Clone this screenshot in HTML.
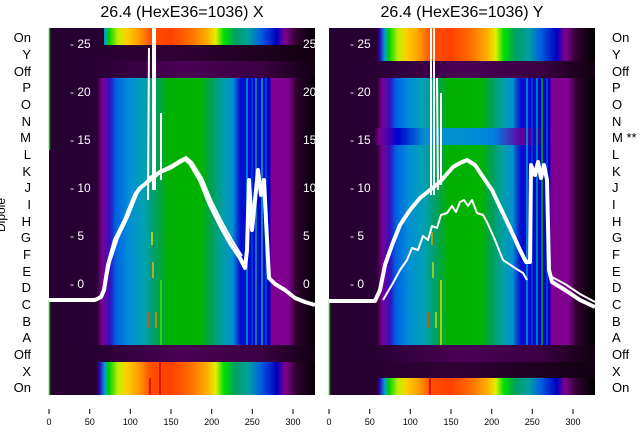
<!DOCTYPE html>
<html><head><meta charset="utf-8"><style>
body{margin:0;background:#fff;}
svg{display:block;font-family:"Liberation Sans","DejaVu Sans",sans-serif;}
</style></head><body>
<svg width="640" height="440" viewBox="0 0 640 440" xmlns="http://www.w3.org/2000/svg">
<defs>
<linearGradient id="mid" x1="0" x2="1" y1="0" y2="0">
<stop offset="0" stop-color="#250030"/>
<stop offset="0.18" stop-color="#2a0035"/>
<stop offset="0.20" stop-color="#7a0090"/>
<stop offset="0.23" stop-color="#3010c0"/>
<stop offset="0.25" stop-color="#0060e0"/>
<stop offset="0.30" stop-color="#0090d8"/>
<stop offset="0.36" stop-color="#00a0b0"/>
<stop offset="0.40" stop-color="#00a060"/>
<stop offset="0.45" stop-color="#00b000"/>
<stop offset="0.57" stop-color="#00b400"/>
<stop offset="0.61" stop-color="#00a050"/>
<stop offset="0.65" stop-color="#00a0a0"/>
<stop offset="0.69" stop-color="#0090d0"/>
<stop offset="0.72" stop-color="#0010d0"/>
<stop offset="0.83" stop-color="#0000c8"/>
<stop offset="0.835" stop-color="#800090"/>
<stop offset="0.90" stop-color="#800090"/>
<stop offset="0.93" stop-color="#300030"/>
<stop offset="1" stop-color="#000000"/>
</linearGradient>
<linearGradient id="midM" x1="0" x2="1" y1="0" y2="0">
<stop offset="0" stop-color="#250030"/>
<stop offset="0.17" stop-color="#2a0035"/>
<stop offset="0.19" stop-color="#7a0090"/>
<stop offset="0.26" stop-color="#0000d0"/>
<stop offset="0.36" stop-color="#0090d0"/>
<stop offset="0.5" stop-color="#0090d0"/>
<stop offset="0.62" stop-color="#0080e0"/>
<stop offset="0.72" stop-color="#6000a0"/>
<stop offset="0.83" stop-color="#0000c8"/>
<stop offset="0.835" stop-color="#800090"/>
<stop offset="0.90" stop-color="#800090"/>
<stop offset="0.93" stop-color="#300030"/>
<stop offset="1" stop-color="#000000"/>
</linearGradient>
<linearGradient id="spec" x1="0" x2="1" y1="0" y2="0">
<stop offset="0" stop-color="#250030"/>
<stop offset="0.18" stop-color="#250030"/>
<stop offset="0.19" stop-color="#3000c0"/>
<stop offset="0.21" stop-color="#00a0d0"/>
<stop offset="0.225" stop-color="#00d000"/>
<stop offset="0.26" stop-color="#c0f000"/>
<stop offset="0.29" stop-color="#ffd000"/>
<stop offset="0.336" stop-color="#ffa000"/>
<stop offset="0.38" stop-color="#ff5000"/>
<stop offset="0.46" stop-color="#ff4000"/>
<stop offset="0.535" stop-color="#ff7000"/>
<stop offset="0.596" stop-color="#ffb000"/>
<stop offset="0.627" stop-color="#e0f000"/>
<stop offset="0.657" stop-color="#00e000"/>
<stop offset="0.70" stop-color="#00a060"/>
<stop offset="0.75" stop-color="#00a0a0"/>
<stop offset="0.795" stop-color="#0060e0"/>
<stop offset="0.856" stop-color="#0000c0"/>
<stop offset="0.887" stop-color="#800090"/>
<stop offset="0.93" stop-color="#300030"/>
<stop offset="1" stop-color="#000000"/>
</linearGradient>
<linearGradient id="dark" x1="0" x2="1" y1="0" y2="0">
<stop offset="0" stop-color="#250030"/>
<stop offset="0.2" stop-color="#2a0035"/>
<stop offset="0.5" stop-color="#4a0055"/>
<stop offset="0.8" stop-color="#3a0040"/>
<stop offset="1" stop-color="#100010"/>
</linearGradient>
<linearGradient id="dark2" x1="0" x2="1" y1="0" y2="0">
<stop offset="0" stop-color="#250030"/>
<stop offset="0.5" stop-color="#300035"/>
<stop offset="1" stop-color="#100010"/>
</linearGradient>
</defs>

<text x="182" y="17" font-size="16" text-anchor="middle" fill="#000">26.4 (HexE36=1036) X</text>
<text x="462" y="17" font-size="16" text-anchor="middle" fill="#000">26.4 (HexE36=1036) Y</text>

<!-- LEFT PANEL -->
<g>
<rect x="49" y="28" width="266" height="367" fill="#250030"/>
<rect x="49" y="28" width="266" height="17" fill="url(#spec)"/>
<rect x="49" y="45" width="266" height="16" fill="url(#dark2)"/>
<rect x="49" y="61" width="266" height="17" fill="url(#dark)"/>
<rect x="49" y="78" width="266" height="267" fill="url(#mid)"/>
<rect x="49" y="345" width="266" height="17" fill="url(#dark)"/>
<rect x="49" y="362" width="266" height="33" fill="url(#spec)"/>
<rect x="49" y="28" width="55" height="17" fill="#250030"/>
<g stroke-width="1.5">
<line x1="247" y1="78" x2="247" y2="345" stroke="#00a0d0"/>
<line x1="252" y1="78" x2="252" y2="345" stroke="#0040e0"/>
<line x1="256" y1="78" x2="256" y2="345" stroke="#00a0a0"/>
<line x1="262" y1="78" x2="262" y2="345" stroke="#00b0c0"/>
<line x1="266" y1="78" x2="266" y2="345" stroke="#0050e0"/>
<line x1="152" y1="232" x2="152" y2="245" stroke="#e0e000"/>
<line x1="153" y1="262" x2="153" y2="278" stroke="#ffb000"/>
<line x1="148" y1="312" x2="148" y2="328" stroke="#ff4000"/>
<line x1="156" y1="312" x2="156" y2="328" stroke="#ff8000"/>
<line x1="161" y1="280" x2="161" y2="345" stroke="#40e000"/>
<line x1="150" y1="378" x2="150" y2="395" stroke="#d00000"/>
<line x1="160" y1="362" x2="160" y2="395" stroke="#e00000"/>
<line x1="49.5" y1="28" x2="49.5" y2="150" stroke="#00c000"/>
<line x1="49.5" y1="300" x2="49.5" y2="395" stroke="#00c000"/>
</g>
<g fill="none" stroke="#fff" stroke-linejoin="round">
<polyline stroke-width="4" points="49,300 95,300 101,297 104,290 108,265 115,240 125,220 135,195 140,188 150,180 160,172 170,168 178,163 185,159 190,163 200,180 210,205 220,225 230,243 240,258 245,268 247,250 249,180 252,230 255,200 258,170 261,195 264,180 267,240 269,278 275,284 285,290 295,298 305,302 315,305"/>
<polyline stroke-width="2" points="100,299 105,287 110,262 118,238 128,217 138,192 150,177 162,170 172,165 180,160 186,157 192,162 202,178 212,202 222,222 232,240 242,256"/>
<polyline stroke-width="2" points="153,190 153,28"/>
<polyline stroke-width="2" points="155,190 155,28"/>
<polyline stroke-width="2" points="148,200 149,48"/>
<polyline stroke-width="2" points="161,180 161,113"/>
</g>
<g fill="#fff" font-size="12">
<text x="70" y="48">- 25</text>
<text x="70" y="96">- 20</text>
<text x="70" y="144">- 15</text>
<text x="70" y="192">- 10</text>
<text x="70" y="240">- 5</text>
<text x="70" y="288">- 0</text>
<text x="303" y="48">25</text>
<text x="303" y="96">20</text>
<text x="303" y="144">15</text>
<text x="303" y="192">10</text>
<text x="303" y="240">5</text>
<text x="303" y="288">0</text>
</g>
</g>

<!-- RIGHT PANEL -->
<g>
<rect x="329" y="28" width="266" height="367" fill="#250030"/>
<rect x="329" y="28" width="266" height="33" fill="url(#spec)"/>
<rect x="329" y="61" width="266" height="17" fill="url(#dark)"/>
<rect x="329" y="78" width="266" height="267" fill="url(#mid)"/>
<rect x="329" y="128" width="266" height="17" fill="url(#midM)"/>
<rect x="329" y="345" width="266" height="17" fill="url(#dark)"/>
<rect x="329" y="362" width="266" height="16" fill="url(#dark2)"/>
<rect x="329" y="378" width="266" height="17" fill="url(#spec)"/>
<g stroke-width="1.5">
<line x1="527" y1="78" x2="527" y2="345" stroke="#00a0d0"/>
<line x1="532" y1="78" x2="532" y2="345" stroke="#0040e0"/>
<line x1="537" y1="78" x2="537" y2="345" stroke="#00a0a0"/>
<line x1="542" y1="78" x2="542" y2="345" stroke="#00b000"/>
<line x1="547" y1="78" x2="547" y2="345" stroke="#0050e0"/>
<line x1="432" y1="232" x2="432" y2="245" stroke="#e0a000"/>
<line x1="433" y1="262" x2="433" y2="278" stroke="#c0e000"/>
<line x1="428" y1="312" x2="428" y2="328" stroke="#ff4000"/>
<line x1="436" y1="312" x2="436" y2="328" stroke="#c0e000"/>
<line x1="441" y1="280" x2="441" y2="345" stroke="#e0e000"/>
<line x1="430" y1="378" x2="430" y2="395" stroke="#d00000"/>
<line x1="329.5" y1="300" x2="329.5" y2="395" stroke="#00c000"/>
</g>
<g fill="none" stroke="#fff" stroke-linejoin="round">
<polyline stroke-width="4" points="329,301 375,301 380,290 385,265 392,245 400,225 410,210 420,198 430,190 440,182 453,167 460,163 467,160 475,165 483,177 492,190 500,207 510,228 520,250 526,262 530,262 531,165 535,175 538,162 541,178 544,165 547,180 549,270 552,282 565,290 580,300 595,307"/>
<polyline stroke-width="2" points="383,300 393,283 400,270 407,260 412,248 418,250 423,236 428,240 432,226 437,228 441,215 447,213 452,206 456,212 460,202 464,200 468,206 472,200 477,213 483,215 487,222 495,240 503,260 515,268 523,273 527,280"/>
<polyline stroke-width="2" points="550,276 565,284 580,294 595,302"/>
<polyline stroke-width="2" points="431,195 431,28"/>
<polyline stroke-width="2" points="434,195 434,28"/>
<polyline stroke-width="2" points="438,190 437,78"/>
<polyline stroke-width="2" points="441,185 441,93"/>
</g>
<g fill="#fff" font-size="12">
<text x="350" y="48">- 25</text>
<text x="350" y="96">- 20</text>
<text x="350" y="144">- 15</text>
<text x="350" y="192">- 10</text>
<text x="350" y="240">- 5</text>
<text x="350" y="288">- 0</text>
</g>
</g>

<g font-size="13" fill="#000">
<g text-anchor="end">
<text x="31" y="42">On</text><text x="31" y="59">Y</text><text x="31" y="76">Off</text>
<text x="31" y="92">P</text><text x="31" y="109">O</text><text x="31" y="126">N</text>
<text x="31" y="142">M</text><text x="31" y="159">L</text><text x="31" y="176">K</text>
<text x="31" y="192">J</text><text x="31" y="209">I</text><text x="31" y="226">H</text>
<text x="31" y="242">G</text><text x="31" y="259">F</text><text x="31" y="276">E</text>
<text x="31" y="292">D</text><text x="31" y="309">C</text><text x="31" y="326">B</text>
<text x="31" y="342">A</text><text x="31" y="359">Off</text><text x="31" y="376">X</text>
<text x="31" y="392">On</text>
</g>
<g>
<text x="612" y="42">On</text><text x="612" y="59">Y</text><text x="612" y="76">Off</text>
<text x="612" y="92">P</text><text x="612" y="109">O</text><text x="612" y="126">N</text>
<text x="612" y="142">M **</text><text x="612" y="159">L</text><text x="612" y="176">K</text>
<text x="612" y="192">J</text><text x="612" y="209">I</text><text x="612" y="226">H</text>
<text x="612" y="242">G</text><text x="612" y="259">F</text><text x="612" y="276">E</text>
<text x="612" y="292">D</text><text x="612" y="309">C</text><text x="612" y="326">B</text>
<text x="612" y="342">A</text><text x="612" y="359">Off</text><text x="612" y="376">X</text>
<text x="612" y="392">On</text>
</g>
<text transform="translate(5,215) rotate(-90)" text-anchor="middle" font-size="12">Dipole</text>
</g>

<g stroke="#000" stroke-width="1">
<line x1="49" y1="409" x2="49" y2="414"/><line x1="89.7" y1="409" x2="89.7" y2="414"/>
<line x1="130.3" y1="409" x2="130.3" y2="414"/><line x1="171" y1="409" x2="171" y2="414"/>
<line x1="211.7" y1="409" x2="211.7" y2="414"/><line x1="252.3" y1="409" x2="252.3" y2="414"/>
<line x1="293" y1="409" x2="293" y2="414"/>
<line x1="329" y1="409" x2="329" y2="414"/><line x1="369.7" y1="409" x2="369.7" y2="414"/>
<line x1="410.3" y1="409" x2="410.3" y2="414"/><line x1="451" y1="409" x2="451" y2="414"/>
<line x1="491.7" y1="409" x2="491.7" y2="414"/><line x1="532.3" y1="409" x2="532.3" y2="414"/>
<line x1="573" y1="409" x2="573" y2="414"/>
</g>
<g font-size="9" fill="#000" text-anchor="middle">
<text x="49" y="425">0</text><text x="89.7" y="425">50</text><text x="130.3" y="425">100</text>
<text x="171" y="425">150</text><text x="211.7" y="425">200</text><text x="252.3" y="425">250</text>
<text x="293" y="425">300</text>
<text x="329" y="425">0</text><text x="369.7" y="425">50</text><text x="410.3" y="425">100</text>
<text x="451" y="425">150</text><text x="491.7" y="425">200</text><text x="532.3" y="425">250</text>
<text x="573" y="425">300</text>
</g>
</svg>
</body></html>
